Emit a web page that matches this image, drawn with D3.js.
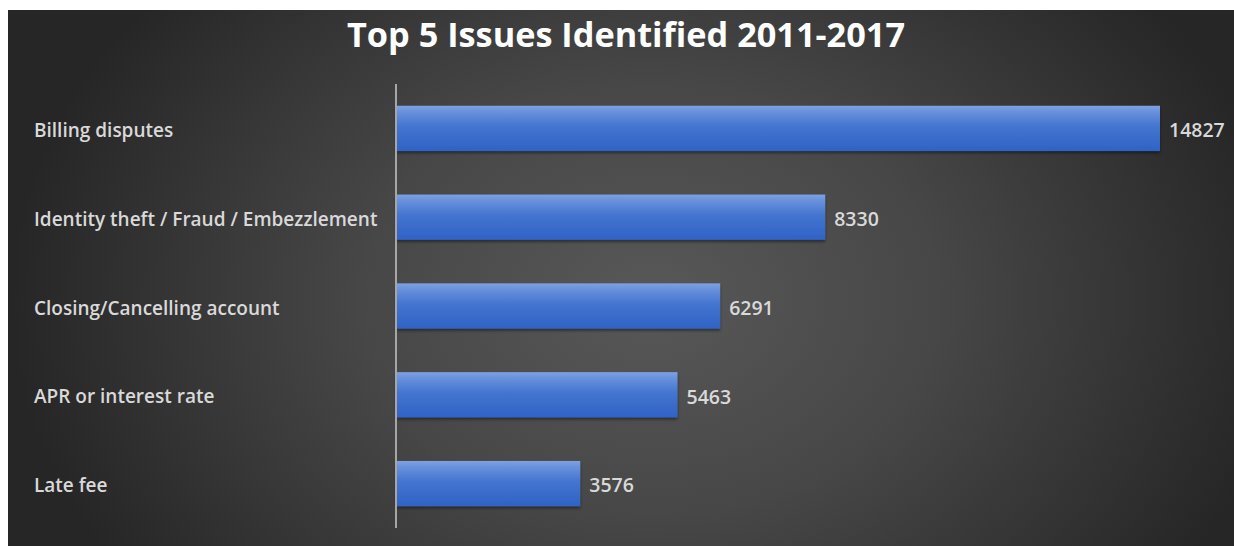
<!DOCTYPE html>
<html>
<head>
<meta charset="utf-8">
<script src="https://cdn.jsdelivr.net/npm/d3@7"></script>
<style>
  html, body { margin: 0; padding: 0; background: #ffffff; }
  svg { display: block; }
</style>
</head>
<body>
<svg id="chart" width="1234" height="546"></svg>
<script>
// Top 5 complaint issues, 2011-2017
const categories = [
  "Billing disputes",
  "Identity theft / Fraud / Embezzlement",
  "Closing/Cancelling account",
  "APR or interest rate",
  "Late fee"
];
const counts = [14827, 8330, 6291, 5463, 3576];
const titleText = "Top 5 Issues Identified 2011-2017";

const W = 1234, H = 546;
const svg = d3.select("#chart");
const defs = svg.append("defs");

// dark panel with a soft light centre
const bg = defs.append("radialGradient")
  .attr("id", "panelGrad")
  .attr("gradientUnits", "userSpaceOnUse")
  .attr("cx", 650).attr("cy", 300).attr("r", 640)
  .attr("gradientTransform", "translate(650,300) scale(1,0.75) translate(-650,-300)");
bg.append("stop").attr("offset", "0%").attr("stop-color", "#585858");
bg.append("stop").attr("offset", "45%").attr("stop-color", "#474747");
bg.append("stop").attr("offset", "100%").attr("stop-color", "#262626");

// bevelled blue bar fill
const barGrad = defs.append("linearGradient")
  .attr("id", "barGrad").attr("x1", 0).attr("y1", 0).attr("x2", 0).attr("y2", 1);
barGrad.append("stop").attr("offset", "0%").attr("stop-color", "#7da2e2");
barGrad.append("stop").attr("offset", "12%").attr("stop-color", "#6b92dc");
barGrad.append("stop").attr("offset", "45%").attr("stop-color", "#4475d0");
barGrad.append("stop").attr("offset", "100%").attr("stop-color", "#2f62c5");

const shadow = defs.append("filter").attr("id", "barShadow")
  .attr("x", "-5%").attr("y", "-20%").attr("width", "110%").attr("height", "150%");
shadow.append("feDropShadow").attr("dx", 0).attr("dy", 2).attr("stdDeviation", 1.5)
  .attr("flood-color", "#000").attr("flood-opacity", 0.45);

svg.append("rect")
  .attr("x", 8).attr("y", 10).attr("width", W - 8).attr("height", H - 10)
  .attr("fill", "url(#panelGrad)");

// title
svg.append("text")
  .attr("x", 626).attr("y", 47)
  .attr("text-anchor", "middle")
  .attr("font-family", "'Open Sans', 'DejaVu Sans', sans-serif")
  .attr("font-weight", 700)
  .attr("font-size", 34)
  .attr("fill", "#ffffff")
  .attr("textLength", 558)
  .attr("lengthAdjust", "spacingAndGlyphs")
  .text(titleText);

// scales
const x = d3.scaleLinear().domain([0, 16000]).range([396, 396 + 16000 * (764 / 14827)]);
const y = d3.scaleBand().domain(categories).range([84, 528]).paddingInner(0.49).paddingOuter(0.245);

// bars
svg.append("g").selectAll("rect")
  .data(categories)
  .join("rect")
  .attr("x", x(0))
  .attr("y", d => y(d))
  .attr("width", (d, i) => x(counts[i]) - x(0))
  .attr("height", y.bandwidth())
  .attr("fill", "url(#barGrad)")
  .attr("filter", "url(#barShadow)");

// value labels
svg.append("g").selectAll("text")
  .data(categories)
  .join("text")
  .attr("x", (d, i) => x(counts[i]) + 9)
  .attr("y", d => y(d) + y.bandwidth() / 2)
  .attr("dy", "0.45em")
  .attr("font-family", "'Open Sans', sans-serif")
  .attr("font-weight", 600)
  .attr("font-size", 19.5)
  .attr("fill", "#d9d9d9")
  .text((d, i) => counts[i]);

// category axis
const yAxis = d3.axisLeft(y).tickSize(0).tickPadding(0);
const gAxis = svg.append("g")
  .attr("transform", `translate(${x(0)},0)`)
  .call(yAxis);
gAxis.select(".domain").attr("stroke", "#a6a6a6").attr("stroke-width", 2)
  .attr("d", `M0,84V528`);
gAxis.selectAll(".tick text")
  .attr("x", 34 - x(0))
  .attr("text-anchor", "start")
  .attr("dy", "0.45em")
  .attr("font-family", "'Open Sans', sans-serif")
  .attr("font-weight", 600)
  .attr("font-size", 19)
  .attr("fill", "#d9d9d9");
</script>
</body>
</html>
